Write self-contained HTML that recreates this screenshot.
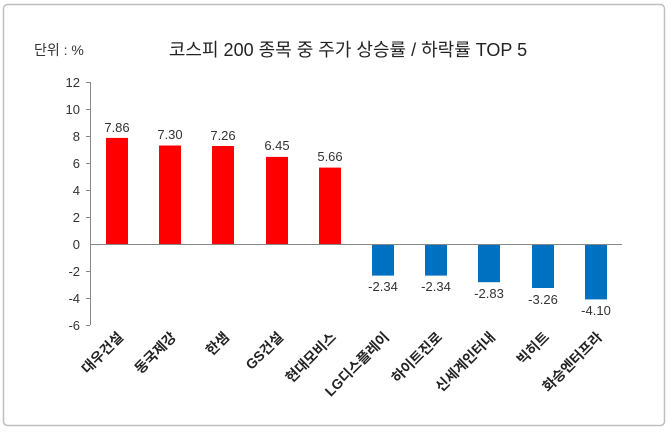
<!DOCTYPE html>
<html><head><meta charset="utf-8"><style>
body{margin:0;background:#fff;}
svg{display:block;font-family:"Liberation Sans","Noto Sans CJK KR",sans-serif;}
</style></head><body>
<svg width="670" height="433" viewBox="0 0 670 433">
<rect x="3.5" y="4.5" width="661" height="421" rx="4" fill="#fff" stroke="#bfbfbf" stroke-width="1.5"/>
<text x="34" y="55" font-size="14" fill="#333">단위 : %</text>
<text x="348" y="56" font-size="18" fill="#222" text-anchor="middle">코스피 200 종목 중  주가 상승률 / 하락률 TOP 5</text>
<g font-size="13" fill="#333" text-anchor="end">
<text x="80" y="87">12</text><text x="80" y="114">10</text><text x="80" y="141">8</text>
<text x="80" y="168">6</text><text x="80" y="195">4</text><text x="80" y="222">2</text>
<text x="80" y="249">0</text><text x="80" y="276">-2</text><text x="80" y="303">-4</text><text x="80" y="330">-6</text>
</g>
<g stroke="#888" stroke-width="1">
<line x1="90.5" y1="82" x2="90.5" y2="325"/>
<line x1="86" y1="82.5" x2="90" y2="82.5"/><line x1="86" y1="109.5" x2="90" y2="109.5"/>
<line x1="86" y1="136.5" x2="90" y2="136.5"/><line x1="86" y1="163.5" x2="90" y2="163.5"/>
<line x1="86" y1="190.5" x2="90" y2="190.5"/><line x1="86" y1="217.5" x2="90" y2="217.5"/>
<line x1="86" y1="271.5" x2="90" y2="271.5"/><line x1="86" y1="298.5" x2="90" y2="298.5"/>
<line x1="86" y1="325.5" x2="90" y2="325.5"/>
</g>
<g fill="#ff0000">
<rect x="106" y="137.9" width="22" height="106.1"/>
<rect x="159" y="145.5" width="22" height="98.5"/>
<rect x="212" y="146" width="22" height="98"/>
<rect x="266" y="156.9" width="22" height="87.1"/>
<rect x="319" y="167.6" width="22" height="76.4"/>
</g>
<g fill="#0070c0">
<rect x="372" y="244" width="22" height="31.6"/>
<rect x="425" y="244" width="22" height="31.6"/>
<rect x="478" y="244" width="22" height="38.2"/>
<rect x="532" y="244" width="22" height="44"/>
<rect x="585" y="244" width="22" height="55.4"/>
</g>
<line x1="90" y1="244.5" x2="622" y2="244.5" stroke="#888"/>
<g font-size="13" fill="#333" text-anchor="middle">
<text x="117" y="132">7.86</text><text x="170" y="139">7.30</text><text x="223" y="140">7.26</text>
<text x="277" y="150">6.45</text><text x="330" y="161">5.66</text>
<text x="383" y="291">-2.34</text><text x="436" y="291">-2.34</text><text x="489" y="298">-2.83</text>
<text x="543" y="304">-3.26</text><text x="596" y="315">-4.10</text>
</g>
<g font-size="14" font-weight="bold" fill="#222" text-anchor="end">
<text transform="translate(124,338) rotate(-45)">대우건설</text>
<text transform="translate(177,338) rotate(-45)">동국제강</text>
<text transform="translate(230,338) rotate(-45)">한샘</text>
<text transform="translate(284,338) rotate(-45)">GS건설</text>
<text transform="translate(337,338) rotate(-45)">현대모비스</text>
<text transform="translate(390,338) rotate(-45)">LG디스플레이</text>
<text transform="translate(443,338) rotate(-45)">하이트진로</text>
<text transform="translate(496,338) rotate(-45)">신세계인터내</text>
<text transform="translate(550,338) rotate(-45)">빅히트</text>
<text transform="translate(603,338) rotate(-45)">화승엔터프라</text>
</g>
</svg>
</body></html>
